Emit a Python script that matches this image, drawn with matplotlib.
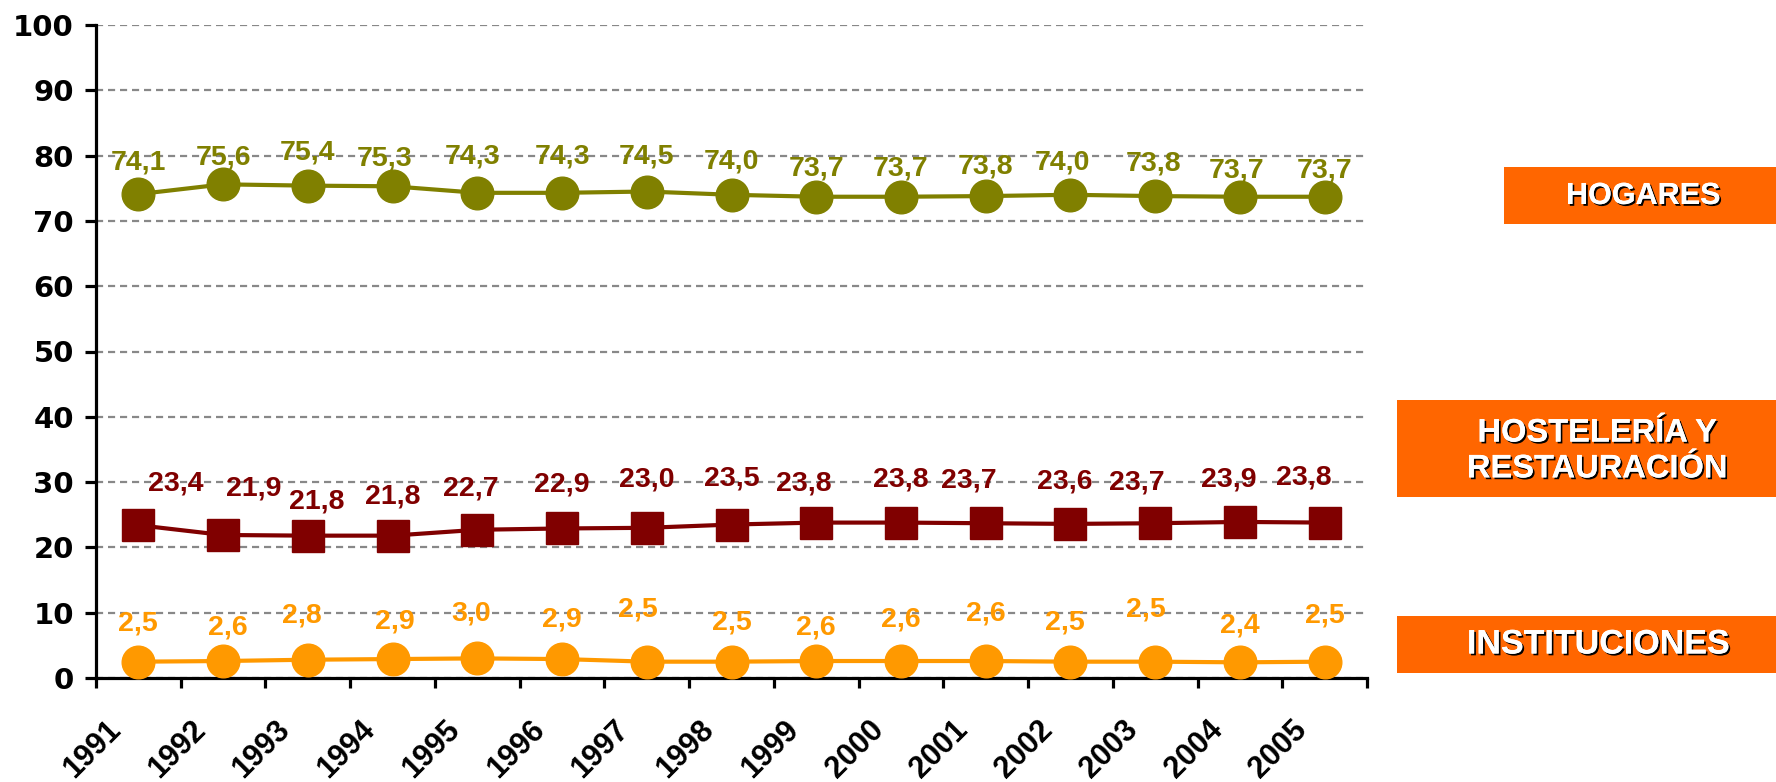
import numpy as np
import matplotlib
matplotlib.use("Agg")
import matplotlib.pyplot as plt
import matplotlib.patheffects as pe
from matplotlib.patches import Rectangle
from matplotlib.transforms import ScaledTranslation

years = ['1991', '1992', '1993', '1994', '1995', '1996', '1997', '1998',
         '1999', '2000', '2001', '2002', '2003', '2004', '2005']
hogares = [74.1, 75.6, 75.4, 75.3, 74.3, 74.3, 74.5, 74.0, 73.7, 73.7, 73.8, 74.0, 73.8, 73.7, 73.7]
hosteleria = [23.4, 21.9, 21.8, 21.8, 22.7, 22.9, 23.0, 23.5, 23.8, 23.8, 23.7, 23.6, 23.7, 23.9, 23.8]
instituciones = [2.5, 2.6, 2.8, 2.9, 3.0, 2.9, 2.5, 2.5, 2.6, 2.6, 2.6, 2.5, 2.5, 2.4, 2.5]

# label offsets in pixels (dx, dy) from each marker
off_hog = [(0, 32), (0, 27), (0, 33), (-8, 28), (-5, 36), (0, 36), (0, 35), (0, 33),
           (0, 28), (0, 28), (0, 30), (-8, 32), (-2, 33), (-3, 26), (0, 26)]
off_hos = [(37, 42), (31, 46), (9, 34), (0, 39), (-6, 41), (0, 44), (0, 48), (0, 46),
           (-12, 39), (0, 43), (-17, 43), (-6, 42), (-18, 41), (-11, 42), (-21, 45)]
off_ins = [(0, 38), (5, 34), (-6, 44), (2, 38), (-6, 45), (0, 40), (-9, 52), (0, 39),
           (0, 34), (0, 42), (0, 48), (-6, 39), (-9, 52), (0, 37), (0, 46)]

OLIVE = '#808000'
MAROON = '#800000'
ORANGE = '#FF9900'
BOX = '#FF6600'
BOLD = dict(fontweight='bold', family=['Liberation Sans', 'DejaVu Sans'])

W, H = 1776, 782
fig = plt.figure(figsize=(W / 100, H / 100), dpi=100)
ax = fig.add_axes([96 / W, 1 - 678 / H, (1367 - 96) / W, (678 - 25) / H])

x = np.arange(len(years))
series = [
    (hogares, OLIVE, 'o', off_hog),
    (hosteleria, MAROON, 's', off_hos),
    (instituciones, ORANGE, 'o', off_ins),
]
for vals, col, mk, offs in series:
    ax.plot(x, vals, color=col, lw=3.0, marker=mk, ms=23.5, mec=col, mfc=col,
            clip_on=False, zorder=3)
    for xi, v, (dx, dy) in zip(x, vals, offs):
        ax.annotate(f'{v:.1f}'.replace('.', ','), (xi, v), xytext=(dx, dy),
                    textcoords='offset pixels', ha='center', va='center',
                    fontsize=20.5, color=col, **BOLD)

ax.set_xlim(-0.5, len(years) - 0.5)
ax.set_ylim(0, 100)
ax.set_yticks(np.arange(0, 101, 10))
ax.yaxis.grid(True, color='#888888', lw=1.6, ls=(0, (3.2, 2.2)))
ax.set_axisbelow(True)

for s in ['top', 'right']:
    ax.spines[s].set_visible(False)
for s in ['left', 'bottom']:
    ax.spines[s].set_linewidth(2.3)

ax.tick_params(axis='y', length=8, width=2.3, pad=8)
for lab in ax.get_yticklabels():
    lab.set_fontsize(21)
    lab.set_fontweight('bold')
    lab.set_family('DejaVu Sans')

ax.set_xticks(np.arange(-0.5, len(years), 1), minor=True)
ax.tick_params(axis='x', which='minor', length=7.5, width=2.3)
ax.set_xticks(x)
ax.set_xticklabels(years, rotation=45, ha='right', va='center',
                   rotation_mode='anchor', fontsize=22, **BOLD)
ax.tick_params(axis='x', which='major', length=0, pad=34)
for lab in ax.get_xticklabels():
    lab.set_transform(lab.get_transform() + ScaledTranslation(-0.22, 0, fig.dpi_scale_trans))


def px_box(x0, y0, x1, y1):
    return Rectangle((x0 / W, 1 - y1 / H), (x1 - x0) / W, (y1 - y0) / H,
                     transform=fig.transFigure, facecolor=BOX, edgecolor='none')


shadow = [pe.withSimplePatchShadow(offset=(1.3, -1.3), shadow_rgbFace='black', alpha=1.0),
          pe.Normal()]
boxes = [
    ((1504, 167, 1776, 224), (1643, 196), 'HOGARES', 22),
    ((1397, 400, 1776, 497), (1597, 451), 'HOSTELERÍA Y\nRESTAURACIÓN', 23.5),
    ((1397, 616, 1776, 673), (1598, 645), 'INSTITUCIONES', 24.5),
]
for rect, (tx, ty), txt, fs in boxes:
    fig.add_artist(px_box(*rect))
    fig.text(tx / W, 1 - ty / H, txt, ha='center', va='center', color='white',
             fontsize=fs, linespacing=1.2, path_effects=shadow, **BOLD)

fig.savefig('out.png', dpi=100)
